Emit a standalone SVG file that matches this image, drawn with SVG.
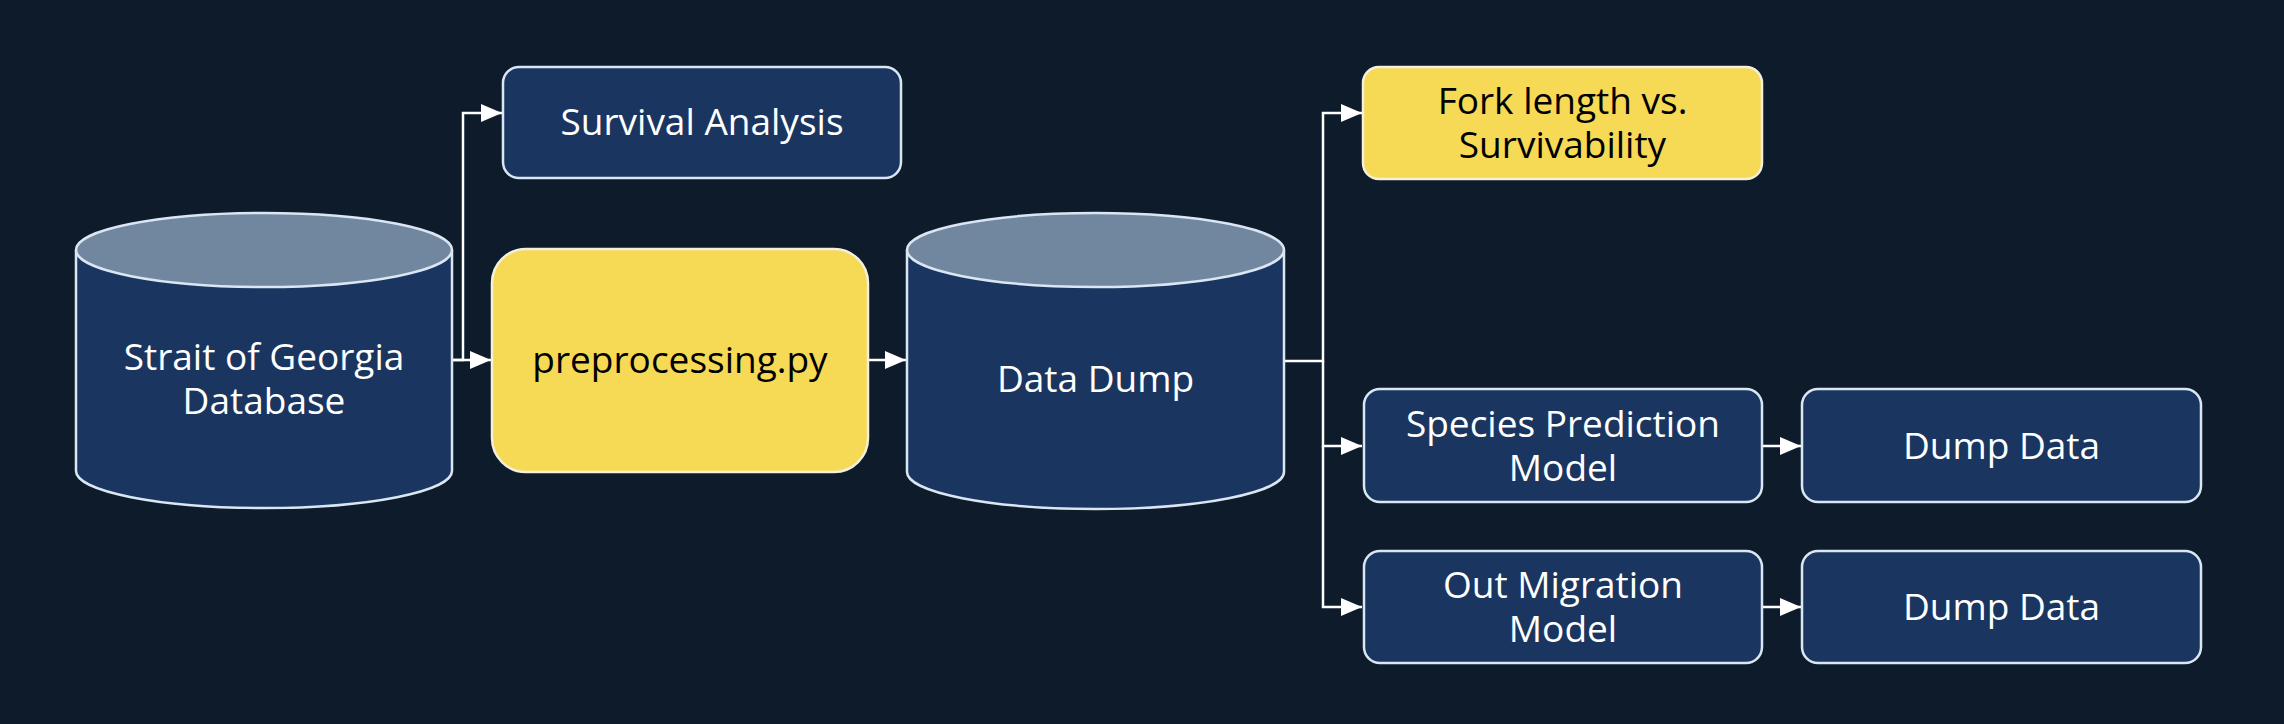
<svg xmlns="http://www.w3.org/2000/svg" width="2284" height="724" viewBox="0 0 2284 724">
<defs>
<style>
.bg{fill:#0e1b2b}
.navy{fill:#1a3660;stroke:#dbe6f3;stroke-width:2.5}
.yellow{fill:#f6d955;stroke:#f3f0dc;stroke-width:2.5}
.cap{fill:#71879f;stroke:#dbe6f3;stroke-width:2.5}
.t{font-family:"Open Sans","Noto Sans",sans-serif;font-size:37px;text-anchor:middle}
.w{fill:#ffffff}
.k{fill:#000000}
.c{fill:none;stroke:#ffffff;stroke-width:2.5}
</style>
<marker id="arr" markerUnits="userSpaceOnUse" markerWidth="22" markerHeight="18" refX="21" refY="9" orient="auto">
<path d="M0,0 L21,9 L0,18 Z" fill="#ffffff"/>
</marker>
</defs>
<rect class="bg" x="0" y="0" width="2284" height="724"/>

<g id="connectors">
<path class="c" d="M452,360 H491" marker-end="url(#arr)"/>
<path class="c" d="M452,360 H463 V113 H502" marker-end="url(#arr)"/>
<path class="c" d="M868,360 H906" marker-end="url(#arr)"/>
<path class="c" d="M1284,361 H1323 V113 H1362" marker-end="url(#arr)"/>
<path class="c" d="M1323,361 V446 H1362" marker-end="url(#arr)"/>
<path class="c" d="M1323,446 V607 H1362" marker-end="url(#arr)"/>
<path class="c" d="M1762,446 H1801" marker-end="url(#arr)"/>
<path class="c" d="M1762,607 H1801" marker-end="url(#arr)"/>
</g>

<g id="strait-db">
<path class="navy" d="M76,250 V471 A188,37 0 0 0 452,471 V250"/>
<ellipse class="cap" cx="264" cy="250" rx="188" ry="37"/>
<text class="t w" x="264" y="370">Strait of Georgia</text>
<text class="t w" x="264" y="414">Database</text>
</g>

<g id="survival">
<rect class="navy" x="503" y="67" width="398" height="111" rx="16"/>
<text class="t w" x="702" y="135">Survival Analysis</text>
</g>

<g id="preprocessing">
<rect class="yellow" x="492" y="249" width="376" height="223" rx="34"/>
<text class="t k" x="680" y="373">preprocessing.py</text>
</g>

<g id="data-dump">
<path class="navy" d="M907,250 V472 A188.5,37 0 0 0 1284,472 V250"/>
<ellipse class="cap" cx="1095.5" cy="250" rx="188.5" ry="37"/>
<text class="t w" x="1095.5" y="392">Data Dump</text>
</g>

<g id="fork-length">
<rect class="yellow" x="1363" y="67" width="399" height="112" rx="16"/>
<text class="t k" x="1562.5" y="114">Fork length vs.</text>
<text class="t k" x="1562.5" y="158">Survivability</text>
</g>

<g id="species">
<rect class="navy" x="1364" y="389" width="398" height="113" rx="16"/>
<text class="t w" x="1563" y="437">Species Prediction</text>
<text class="t w" x="1563" y="481">Model</text>
</g>

<g id="dump-data-1">
<rect class="navy" x="1802" y="389" width="399" height="113" rx="16"/>
<text class="t w" x="2001.5" y="459">Dump Data</text>
</g>

<g id="out-migration">
<rect class="navy" x="1364" y="551" width="398" height="112" rx="16"/>
<text class="t w" x="1563" y="598">Out Migration</text>
<text class="t w" x="1563" y="642">Model</text>
</g>

<g id="dump-data-2">
<rect class="navy" x="1802" y="551" width="399" height="112" rx="16"/>
<text class="t w" x="2001.5" y="620">Dump Data</text>
</g>
</svg>
